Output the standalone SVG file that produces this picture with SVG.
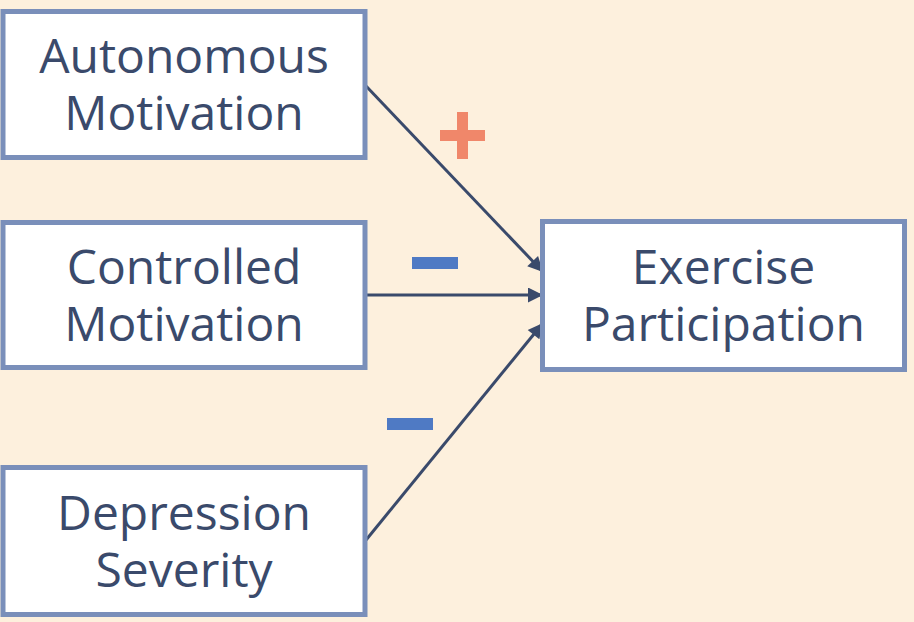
<svg xmlns="http://www.w3.org/2000/svg" width="914" height="622" viewBox="0 0 914 622">
<defs>
<style>
.box{fill:#ffffff;stroke:#7a8fba;stroke-width:5}
.lbl{font-family:"Open Sans","Noto Sans",sans-serif;font-size:48px;fill:#3a4a6b;text-anchor:middle}
.edge{stroke:#3a4a6b;stroke-width:3;fill:none;marker-end:url(#ah)}
</style>
<marker id="ah" viewBox="0 0 10 10" refX="10" refY="5" markerWidth="5.5" markerHeight="5" orient="auto" markerUnits="strokeWidth">
<path d="M0,0 L10,5 L0,10 Z" fill="#3a4a6b"/>
</marker>
</defs>
<rect width="914" height="622" fill="#fdf0dd"/>
<g id="connectors">
<line class="edge" x1="366" y1="86" x2="543" y2="272"/>
<line class="edge" x1="366" y1="295" x2="543" y2="295"/>
<line class="edge" x1="366" y1="540" x2="543" y2="323"/>
</g>
<g id="signs">
<rect x="457" y="112" width="11" height="47" fill="#f0876a"/>
<rect x="440" y="130" width="45" height="11" fill="#f0876a"/>
<rect x="412" y="257" width="46" height="12" fill="#4f7ac4"/>
<rect x="387" y="418" width="46" height="12" fill="#4f7ac4"/>
</g>
<g id="autonomous">
<rect class="box" x="3" y="11.5" width="362" height="146"/>
<text class="lbl"><tspan x="184" y="73">Autonomous</tspan><tspan x="184" y="130">Motivation</tspan></text>
</g>
<g id="controlled">
<rect class="box" x="3" y="222.5" width="362" height="145"/>
<text class="lbl"><tspan x="184" y="284">Controlled</tspan><tspan x="184" y="341">Motivation</tspan></text>
</g>
<g id="depression">
<rect class="box" x="3" y="467.5" width="362" height="147"/>
<text class="lbl"><tspan x="184" y="530">Depression</tspan><tspan x="184" y="587">Severity</tspan></text>
</g>
<g id="exercise">
<rect class="box" x="542.5" y="221.5" width="362" height="148"/>
<text class="lbl"><tspan x="723.5" y="284">Exercise</tspan><tspan x="723.5" y="341">Participation</tspan></text>
</g>
</svg>
